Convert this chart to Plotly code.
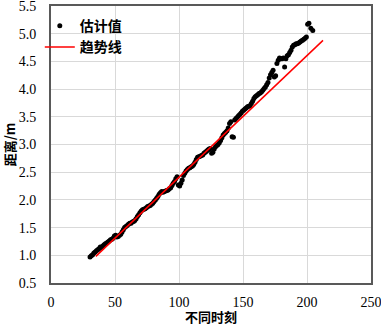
import plotly.graph_objects as go

# Estimated (scatter) values
est_x = [30.5, 31.5, 32.5, 33.5, 34.5, 35.5, 36.5, 37.5, 38.5, 39.5,
         40.5, 41.5, 42.5, 43.5, 44.5, 45.5, 46.5, 47.5, 48.5, 49.5,
         50.5, 51.5, 52.5, 53.5, 54.5, 55.5, 56.5, 57.5, 58.5, 59.5,
         60.5, 61.5, 62.5, 63.5, 64.5, 65.5, 66.5, 67.5, 68.5, 69.5,
         70.5, 71.5, 72.5, 73.5, 74.5, 75.5, 76.5, 77.5, 78.5, 79.5,
         80.5, 81.5, 82.5, 83.5, 84.5, 85.5, 86.5, 87.5, 88.5, 89.5,
         90.5, 91.5, 92.5, 93.5, 94.5, 95.5, 96.5, 97.5, 98.5, 99.5,
         100.5, 101.5, 102.5, 103.5, 104.5, 105.5, 106.5, 107.5, 108.5, 109.5,
         110.5, 111.5, 112.5, 113.5, 114.5, 115.5, 116.5, 117.5, 118.5, 119.5,
         120.5, 121.5, 122.5, 123.5, 124.5, 125.5, 126.5, 127.5, 128.5, 129.5,
         130.5, 131.5, 132.5, 133.5, 134.5, 135.5, 136.5, 137.5, 138.5, 139.5,
         140.5, 141.5, 142.5, 143.5, 144.5, 145.5, 146.5, 147.5, 148.5, 149.5,
         150.5, 151.5, 152.5, 153.5, 154.5, 155.5, 156.5, 157.5, 158.5, 159.5,
         160.5, 161.5, 162.5, 163.5, 164.5, 165.5, 166.5, 167.5, 168.5, 169.5,
         170.5, 171.5, 172.5, 173.5, 174.5, 175.5, 176.5, 177.5, 178.5, 179.5,
         180.5, 181.5, 182.5, 183.5, 184.5, 185.5, 186.5, 187.5, 188.5, 189.5,
         190.5, 191.5, 192.5, 193.5, 194.5, 195.5, 196.5, 197.5, 198.5, 199.5,
         200.5, 201.5, 203.0, 204.5]
est_y = [0.97, 0.99, 1.01, 1.04, 1.06, 1.08, 1.10, 1.12, 1.15, 1.14,
         1.17, 1.19, 1.21, 1.22, 1.24, 1.26, 1.28, 1.29, 1.31, 1.35,
         1.36, 1.33, 1.34, 1.36, 1.38, 1.42, 1.46, 1.50, 1.52, 1.54,
         1.56, 1.58, 1.58, 1.60, 1.61, 1.63, 1.66, 1.70, 1.73, 1.77,
         1.80, 1.82, 1.83, 1.84, 1.86, 1.88, 1.89, 1.90, 1.92, 1.94,
         1.97, 2.00, 2.03, 2.06, 2.10, 2.13, 2.15, 2.14, 2.15, 2.16,
         2.17, 2.18, 2.20, 2.22, 2.26, 2.30, 2.33, 2.38, 2.42, 2.27,
         2.25, 2.30, 2.36, 2.44, 2.48, 2.52, 2.55, 2.57, 2.58, 2.60,
         2.61, 2.64, 2.68, 2.73, 2.77, 2.78, 2.79, 2.80, 2.81, 2.84,
         2.86, 2.88, 2.90, 2.92, 2.93, 2.84, 2.86, 2.92, 2.96, 2.98,
         3.00, 3.03, 3.07, 3.12, 3.17, 3.20, 3.22, 3.25, 3.30, 3.38,
         3.41, 3.14, 3.13, 3.44, 3.47, 3.49, 3.52, 3.54, 3.57, 3.60,
         3.62, 3.64, 3.66, 3.68, 3.69, 3.70, 3.74, 3.78, 3.83, 3.86,
         3.88, 3.90, 3.92, 3.93, 3.95, 3.98, 4.01, 4.04, 4.08, 4.12,
         4.20, 4.26, 4.30, 4.34, 4.22, 4.24, 4.46, 4.52, 4.56, 4.55,
         4.55, 4.56, 4.40, 4.55, 4.60, 4.62, 4.66, 4.70, 4.76, 4.79,
         4.80, 4.82, 4.82, 4.83, 4.85, 4.87, 4.88, 4.90, 4.92, 4.94,
         5.17, 5.19, 5.10, 5.06]

# Trend line end points
trend_x = [35, 212.5]
trend_y = [0.98, 4.88]

x_ticks = [0, 50, 100, 150, 200, 250]
y_ticks = [0.5, 1.0, 1.5, 2.0, 2.5, 3.0, 3.5, 4.0, 4.5, 5.0, 5.5]
y_tick_text = ["0.5", "1.0", "1.5", "2.0", "2.5", "3.0", "3.5", "4.0", "4.5", "5.0", "5.5"]

serif = "Liberation Serif, Times New Roman, serif"
cjk = "Noto Sans CJK SC"
axis_col = "#595959"
grid_col = "#d9d9d9"

fig = go.Figure()
fig.add_trace(go.Scatter(
    x=est_x, y=est_y, mode="markers", name="估计值",
    marker=dict(color="black", size=5),
))
fig.add_trace(go.Scatter(
    x=trend_x, y=trend_y, mode="lines", name="趋势线",
    line=dict(color="#ff0000", width=1.5),
))

fig.update_layout(
    width=381, height=326,
    margin=dict(l=51, r=10, t=6, b=43, autoexpand=False),
    paper_bgcolor="white", plot_bgcolor="white",
    showlegend=True,
    legend=dict(
        x=-0.035, y=0.985, xanchor="left", yanchor="top",
        bgcolor="rgba(0,0,0,0)",
        font=dict(family=cjk, size=14, color="black", weight="bold"),
        tracegroupgap=0, itemwidth=30,
    ),
)
fig.update_xaxes(
    range=[0, 250], tickvals=x_ticks, automargin=False,
    showgrid=True, gridcolor=grid_col, gridwidth=1,
    zeroline=False,
    showline=True, linecolor=axis_col, linewidth=2, mirror=True,
    ticks="", ticklabelstandoff=5, ticklabeloverflow="allow",
    tickfont=dict(family=serif, size=14, color="black"),
    title=dict(text="不同时刻", font=dict(family=cjk, size=13, color="black", weight="bold"), standoff=2),
)
fig.update_yaxes(
    range=[0.5, 5.5], tickvals=y_ticks, ticktext=y_tick_text, automargin=False,
    showgrid=True, gridcolor=grid_col, gridwidth=1,
    zeroline=False,
    showline=True, linecolor=axis_col, linewidth=2, mirror=True,
    ticks="", ticklabelstandoff=10, ticklabeloverflow="allow",
    tickfont=dict(family=serif, size=14, color="black"),
    title=dict(text="距离/m", font=dict(family=cjk, size=13, color="black", weight="bold"), standoff=2),
)

fig.write_html("out.html", config={"displayModeBar": False},
               post_script="document.body.style.margin='0px';")
